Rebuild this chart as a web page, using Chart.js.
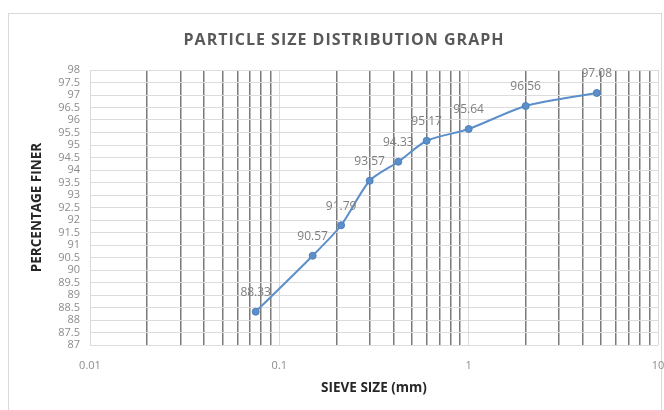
<!DOCTYPE html>
<html>
<head>
<meta charset="utf-8">
<script src="https://cdn.jsdelivr.net/npm/chart.js@4.4.1/dist/chart.umd.min.js"></script>
<style>
  body { margin: 0; background: #fff; }
  canvas { display: block; }
</style>
</head>
<body>
<canvas id="psd-chart" width="664" height="410"></canvas>
<script>
const sieveSizes = [0.075, 0.15, 0.212, 0.3, 0.425, 0.6, 1.0, 2.0, 4.75];
const percentFiner = [88.33, 90.57, 91.79, 93.57, 94.33, 95.17, 95.64, 96.56, 97.08];
const xTickLabels = [0.01, 0.1, 1, 10];
const yTickLabels = [87, 87.5, 88, 88.5, 89, 89.5, 90, 90.5, 91, 91.5, 92, 92.5,
  93, 93.5, 94, 94.5, 95, 95.5, 96, 96.5, 97, 97.5, 98];

const labelFont = "'Open Sans', sans-serif";

// log grid: 1..9 in every decade, decades get the light line
const xGridValues = [];
[0.01, 0.1, 1].forEach(d => {
  for (let m = 1; m <= 9; m++) xGridValues.push(+(d * m).toFixed(3));
});
xGridValues.push(10);

const frameAndLabels = {
  id: 'frameAndLabels',
  beforeDraw(chart) {
    const c = chart.ctx;
    c.save();
    c.fillStyle = '#ffffff';
    c.fillRect(0, 0, chart.width, chart.height);
    c.strokeStyle = '#d9d9d9';
    c.lineWidth = 1;
    c.strokeRect(8.5, 13.5, 653, 400);
    c.fillStyle = '#595959';
    c.font = "bold 16px 'Open Sans', sans-serif";
    c.letterSpacing = '1px';
    c.textAlign = 'center';
    c.textBaseline = 'middle';
    c.fillText('PARTICLE SIZE DISTRIBUTION GRAPH', 344, 40);
    c.restore();
  },
  afterDatasetsDraw(chart) {
    const c = chart.ctx;
    const meta = chart.getDatasetMeta(0);
    c.save();
    c.fillStyle = '#7f7f7f';
    c.font = "12px 'Open Sans', sans-serif";
    c.textAlign = 'center';
    c.textBaseline = 'middle';
    meta.data.forEach((pt, i) => {
      c.fillText(percentFiner[i].toFixed(2), pt.x, pt.y - 19);
    });
    c.restore();
  }
};

const ctx = document.getElementById('psd-chart').getContext('2d');
const psdChart = new Chart(ctx, {
  type: 'line',
  data: {
    datasets: [{
      data: sieveSizes.map((s, i) => ({ x: s, y: percentFiner[i] })),
      borderColor: '#5b8fc9',
      backgroundColor: '#5b8fc9',
      borderWidth: 2,
      pointRadius: 3.5,
      pointBorderWidth: 1,
      pointBorderColor: '#4f81bd',
      tension: 0.25
    }]
  },
  options: {
    responsive: false,
    animation: false,
    layout: { padding: { left: 8, right: 6, top: 70, bottom: 0 } },
    plugins: {
      legend: { display: false },
      tooltip: { enabled: false }
    },
    scales: {
      x: {
        type: 'logarithmic',
        min: 0.01,
        max: 10,
        afterBuildTicks: scale => {
          scale.ticks = xGridValues.map(v => ({ value: v }));
        },
        afterFit: scale => {
          scale.height = 65;
          scale.paddingLeft = 0;
          scale.paddingRight = 0;
        },
        grid: {
          drawTicks: false,
          color: c => xTickLabels.includes(c.tick.value) ? '#d9d9d9' : '#7a7a7a',
          lineWidth: c => xTickLabels.includes(c.tick.value) ? 1 : 1.5
        },
        border: { display: false },
        ticks: {
          autoSkip: false,
          maxRotation: 0,
          padding: 14,
          color: '#8c8c8c',
          font: { family: labelFont, size: 11 },
          callback: v => xTickLabels.includes(v) ? String(v) : ''
        },
        title: {
          display: true,
          text: 'SIEVE SIZE (mm)',
          color: '#262626',
          font: { family: labelFont, size: 13.5, weight: 'bold' },
          padding: { top: 0, bottom: 14 }
        }
      },
      y: {
        min: 87,
        max: 98,
        afterBuildTicks: scale => {
          scale.ticks = yTickLabels.map(v => ({ value: v }));
        },
        afterFit: scale => { scale.width = 82; },
        grid: { drawTicks: false, color: '#dcdcdc', lineWidth: 1 },
        border: { display: false },
        ticks: {
          autoSkip: false,
          padding: 10,
          color: '#8c8c8c',
          font: { family: labelFont, size: 11 },
          callback: v => String(v)
        },
        title: {
          display: true,
          text: 'PERCENTAGE FINER',
          color: '#262626',
          font: { family: labelFont, size: 13.5, weight: 'bold' },
          padding: { top: 21, bottom: 0 }
        }
      }
    }
  },
  plugins: [frameAndLabels]
});
</script>
</body>
</html>
